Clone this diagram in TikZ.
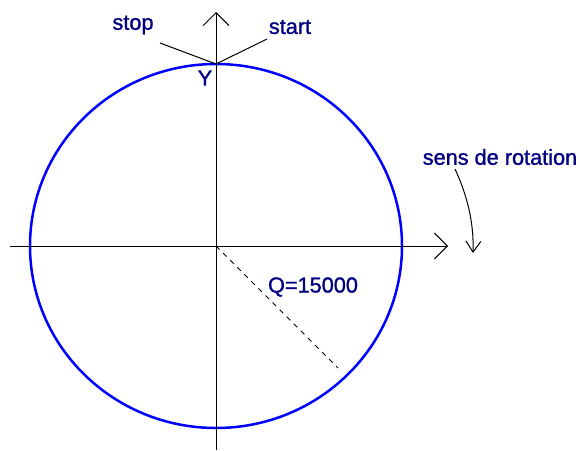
\documentclass[tikz,border=0pt]{standalone}
\usepackage{fontspec}
\setmainfont{Liberation Sans}
\newfontfamily\lblfont{Liberation Sans}[FakeBold=1.2]
\usetikzlibrary{arrows.meta}
\definecolor{navy}{RGB}{0,0,128}
\definecolor{circblue}{RGB}{0,0,255}
\begin{document}
\begin{tikzpicture}[x=1pt,y=-1pt,
  lbl/.style={text=navy,font=\lblfont\fontsize{21.7}{26}\selectfont,inner sep=0pt},
  axis/.style={line width=1pt,-{Straight Barb[length=13pt,width=26pt]}},
  thin line/.style={line width=1pt}]
\useasboundingbox (0,0) rectangle (580,450);
\coordinate (O) at (216,246);
\coordinate (Ytop) at (216,12);
\coordinate (Ybot) at (216,450);
\coordinate (Xl) at (10,246);
\coordinate (Xr) at (448,246);
\coordinate (P) at (216,64);
\coordinate (S1) at (160,43);
\coordinate (S2) at (267,39);
\coordinate (Qend) at (338,368);
\coordinate (R1) at (455,169);
\coordinate (R2) at (473,253);
% circle
\draw[circblue,line width=2.5pt] (O) ellipse [x radius=186,y radius=182];
% axes
\draw[axis] (Ybot) -- (Ytop);
\draw[axis] (Xl) -- (Xr);
% start/stop
\draw[thin line] (S1) -- (P) -- (S2);
% dashed radius
\draw[thin line,dash pattern=on 5pt off 5pt] (O) -- (Qend);
% rotation arrow
\draw[thin line,-{Straight Barb[length=11pt,width=15pt]}] (R1) .. controls (467,195) and (474,222) .. (R2);
% labels
\node[lbl] (stop) at (133,25) {stop};
\node[lbl] (start) at (290,27) {start};
\node[lbl] (Y) at (205,78) {Y};
\node[lbl] (Q) at (313,287) {Q=15000};
\node[lbl] (sens) at (500,157) {sens de rotation};
\end{tikzpicture}
\end{document}
